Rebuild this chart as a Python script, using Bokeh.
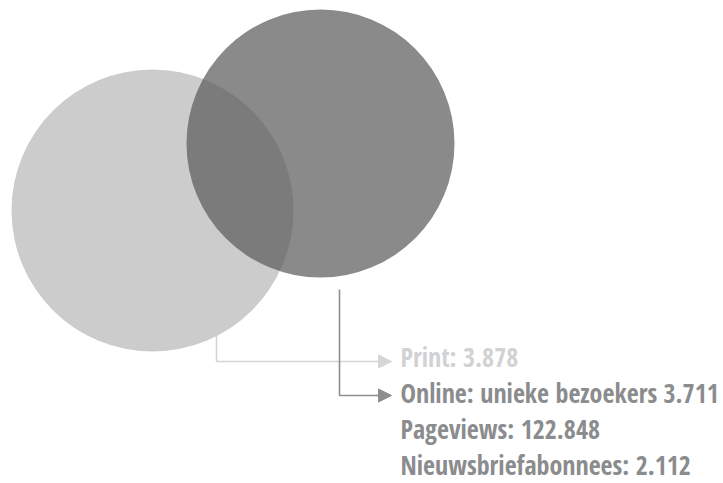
from bokeh.plotting import figure
from bokeh.models import Range1d, Arrow, NormalHead, ColumnDataSource
from bokeh.core.properties import value
from bokeh.embed import file_html
from bokeh.resources import INLINE

# ---- data ----
categories = ["Print", "Online: unieke bezoekers", "Pageviews", "Nieuwsbriefabonnees"]
values = ["3.878", "3.711", "122.848", "2.112"]
separators = [": ", " ", ": ", ": "]
labels = [c + s + v for c, s, v in zip(categories, separators, values)]

# ---- layout (page pixels) ----
W, H = 723, 483
circle_x = [152, 320]
circle_y = [210, 143]
circle_r = [141, 134]
circle_color = ["#cccccc", "#585858"]
circle_alpha = [1.0, 0.7]

label_x = 400
label_y0 = 356
label_step = 36.2
label_colors = ["#d1d2d4", "#8b8c8e", "#8b8c8e", "#8b8c8e"]

FONT = "Open Sans Condensed"

p = figure(width=W, height=H, output_backend="svg", toolbar_location=None,
           x_range=Range1d(0, W), y_range=Range1d(H, 0), min_border=0)
p.axis.visible = False
p.grid.visible = False
p.outline_line_color = None
p.background_fill_color = "white"
p.border_fill_color = "white"

# connector lines (drawn below circles)
light_c = "#d6d6d6"
dark_c = "#8e8e8e"
ly = 361
dy = 395
p.line(x=[216, 216, 377], y=[300, ly, ly], line_color=light_c, line_width=1.6)
p.line(x=[339, 339, 377], y=[289, dy, dy], line_color=dark_c, line_width=1.6)
p.add_layout(Arrow(x_start=376, y_start=ly, x_end=391, y_end=ly, line_color=light_c, line_width=1.6,
                   end=NormalHead(size=13, fill_color=light_c, line_color=light_c, line_width=1)))
p.add_layout(Arrow(x_start=376, y_start=dy, x_end=391, y_end=dy, line_color=dark_c, line_width=1.6,
                   end=NormalHead(size=13, fill_color=dark_c, line_color=dark_c, line_width=1)))

src = ColumnDataSource(dict(x=circle_x, y=circle_y, r=circle_r, c=circle_color, a=circle_alpha))
p.circle(x="x", y="y", radius="r", fill_color="c", fill_alpha="a", line_color=None, source=src)

tsrc = ColumnDataSource(dict(x=[label_x] * len(labels),
                             y=[label_y0 + i * label_step for i in range(len(labels))],
                             t=labels, c=label_colors))
p.text(x="x", y="y", text="t", text_color="c", text_font=value(FONT), text_font_size="26px",
       text_font_style="bold", text_baseline="alphabetic", source=tsrc)

open("out.html", "w").write(file_html(p, INLINE))
